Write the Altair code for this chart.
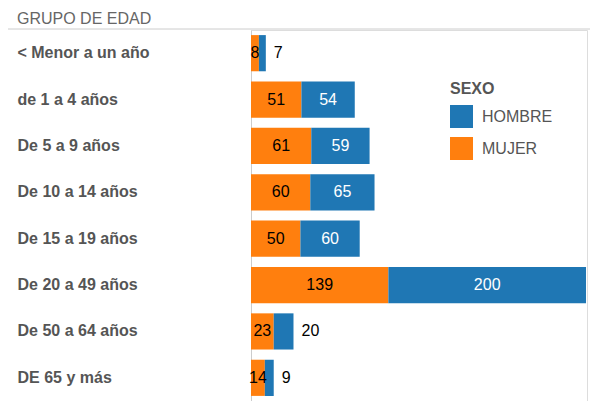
import altair as alt
import pandas as pd

grupos = ["< Menor a un año", "de 1 a 4 años", "De 5 a 9 años", "De 10 a 14 años",
          "De 15 a 19 años", "De 20 a 49 años", "De 50 a 64 años", "DE 65 y más"]
mujer = [8, 51, 61, 60, 50, 139, 23, 14]
hombre = [7, 54, 59, 65, 60, 200, 20, 9]
sexos = ["HOMBRE", "MUJER"]
colores = ["#1F77B4", "#FF7F0E"]
encabezado = "GRUPO DE EDAD"
FONT = "Liberation Sans"
FS = 16

wide = pd.DataFrame({"grupo": grupos, "MUJER": mujer, "HOMBRE": hombre})
long = wide.melt(id_vars="grupo", value_vars=["MUJER", "HOMBRE"],
                 var_name="sexo", value_name="valor")
long["orden"] = long["sexo"].map({"MUJER": 0, "HOMBRE": 1})

xscale = alt.Scale(domain=[0, 340], nice=False)
y = alt.Y("grupo:N", sort=grupos,
          scale=alt.Scale(paddingInner=0.22, paddingOuter=0.11),
          axis=alt.Axis(title=None, labelAlign="left", labelPadding=234,
                        labelFontSize=FS, labelFontWeight="bold",
                        labelColor="#555555", labelFont=FONT, ticks=False,
                        domainColor="#cccccc", labelLimit=300))

bars = alt.Chart(long).mark_bar().encode(
    x=alt.X("valor:Q", stack="zero", scale=xscale, axis=None),
    y=y,
    color=alt.Color("sexo:N", scale=alt.Scale(domain=sexos, range=colores),
                    legend=alt.Legend(title="SEXO", orient="none", legendX=199, legendY=51,
                                      titleFontSize=FS, titleFontWeight="bold",
                                      titleColor="#555555", titleFont=FONT,
                                      labelFontSize=FS, labelColor="#555555", labelFont=FONT,
                                      symbolType="square", symbolSize=529,
                                      symbolStrokeWidth=0, symbolOpacity=1,
                                      rowPadding=9, titlePadding=8, labelOffset=9,
                                      padding=0)),
    order=alt.Order("orden:Q"),
)

t_m = alt.Chart(wide).transform_calculate(xm="datum.MUJER/2").mark_text(
    fontSize=FS, color="black", font=FONT).encode(
    x=alt.X("xm:Q", scale=xscale, axis=None), y=y, text="MUJER:Q")

t_hin = alt.Chart(wide).transform_filter("datum.HOMBRE >= 30").transform_calculate(
    xh="datum.MUJER + datum.HOMBRE/2").mark_text(
    fontSize=FS, color="white", font=FONT).encode(
    x=alt.X("xh:Q", scale=xscale, axis=None), y=y, text="HOMBRE:Q")

t_hout = alt.Chart(wide).transform_filter("datum.HOMBRE < 30").transform_calculate(
    xe="datum.MUJER + datum.HOMBRE").mark_text(
    fontSize=FS, color="black", font=FONT, align="left", dx=8).encode(
    x=alt.X("xe:Q", scale=xscale, axis=None), y=y, text="HOMBRE:Q")

hdr = pd.DataFrame({"t": [encabezado]})
rule = alt.Chart(hdr).mark_rule(color="#cccccc", strokeWidth=1).encode(
    x=alt.value(-243), x2=alt.value(339), y=alt.value(-1))
title = alt.Chart(hdr).mark_text(align="left", baseline="alphabetic", fontSize=FS,
                                 color="#666666", font=FONT).encode(
    x=alt.value(-234), y=alt.value(-6), text="t:N")

chart = alt.layer(bars, t_m, t_hin, t_hout, rule, title).properties(
    width=336, height=371,
    autosize=alt.AutoSizeParams(type="none"),
    padding={"left": 243, "top": 22, "right": 3, "bottom": 0},
).configure_view(stroke=None).configure(background="white")

chart.save("out.html", embed_options={"renderer": "svg", "actions": False})
